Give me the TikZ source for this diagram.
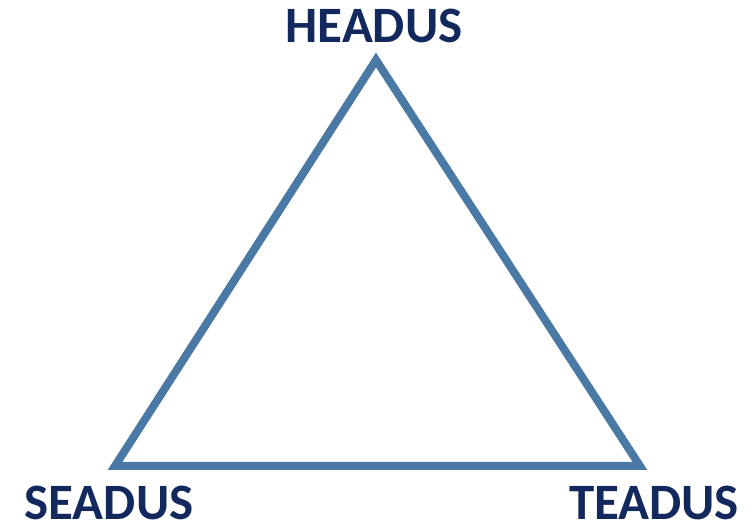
\documentclass[tikz,border=0pt]{standalone}
\usepackage{fontspec}
\setmainfont{Carlito}
\definecolor{edgeblue}{HTML}{4A79A6}
\definecolor{labelnavy}{HTML}{13295E}
\begin{document}
\begin{tikzpicture}[x=1pt,y=1pt,
  lbl/.style={font=\fontsize{51}{51}\selectfont\bfseries, text=labelnavy, anchor=base, inner sep=0pt},
  edge/.style={draw=edgeblue, line width=8pt, line join=miter}]
\useasboundingbox (0,0) rectangle (753,526);
\coordinate (top) at (376,466);
\coordinate (bl) at (115,60);
\coordinate (br) at (640,60);
\draw[edge] (top) -- (bl) -- (br) -- cycle;
\node[lbl] (headus) at (374,483) {HEADUS};
\node[lbl] (seadus) at (109,6) {SEADUS};
\node[lbl] (teadus) at (654,6) {TEADUS};
\end{tikzpicture}
\end{document}
